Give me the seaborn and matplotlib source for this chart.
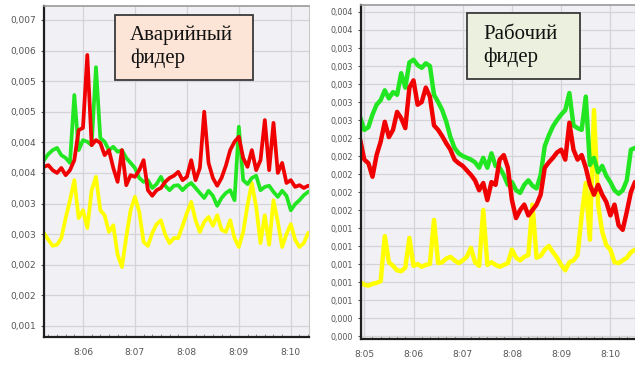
import numpy as np
import pandas as pd
import matplotlib
matplotlib.use("Agg")
import matplotlib.pyplot as plt
import matplotlib.dates as mdates
from matplotlib.ticker import FuncFormatter, FixedLocator
from matplotlib.patches import Rectangle
import seaborn as sns

sns.set_theme(style="whitegrid")
plt.rcParams['font.family'] = ['DejaVu Sans']

# ---------------- data: left panel ("Аварийный фидер"), 5 s samples from 08:05:15 ----------------
left_start = "2020-01-01 08:05:15"
green_left = [0.00398, 0.00409, 0.00416, 0.00420, 0.00407, 0.00402, 0.00393, 0.00515, 0.00416, 0.00434,
              0.00431, 0.00425, 0.00565, 0.00438, 0.00431, 0.00416, 0.00422, 0.00413, 0.00416, 0.00402,
              0.00393, 0.00384, 0.00366, 0.00359, 0.00362, 0.00348, 0.00355, 0.00368, 0.00352, 0.00344,
              0.00352, 0.00353, 0.00344, 0.00352, 0.00357, 0.00348, 0.00339, 0.00330, 0.00343, 0.00334,
              0.00316, 0.00330, 0.00339, 0.00344, 0.00326, 0.00458, 0.00362, 0.00355, 0.00366, 0.00370,
              0.00344, 0.00350, 0.00352, 0.00341, 0.00332, 0.00343, 0.00334, 0.00308, 0.00319, 0.00326,
              0.00335, 0.00341, 0.00344]
red_left = [0.00386, 0.00389, 0.00380, 0.00375, 0.00384, 0.00371, 0.00380, 0.00398, 0.00452, 0.00456,
            0.00587, 0.00425, 0.00434, 0.00429, 0.00407, 0.00416, 0.00384, 0.00359, 0.00416, 0.00353,
            0.00371, 0.00368, 0.00380, 0.00398, 0.00344, 0.00334, 0.00344, 0.00348, 0.00359, 0.00366,
            0.00370, 0.00377, 0.00362, 0.00368, 0.00398, 0.00362, 0.00384, 0.00485, 0.00393, 0.00366,
            0.00352, 0.00366, 0.00388, 0.00416, 0.00431, 0.00440, 0.00402, 0.00386, 0.00416, 0.00380,
            0.00398, 0.00470, 0.00380, 0.00465, 0.00375, 0.00393, 0.00357, 0.00362, 0.00350, 0.00353,
            0.00348, 0.00352, 0.00350]
yellow_left = [0.00267, 0.00255, 0.00244, 0.00246, 0.00258, 0.00294, 0.00326, 0.00362, 0.00294, 0.00308,
               0.00276, 0.00344, 0.00368, 0.00308, 0.00299, 0.00269, 0.00281, 0.00228, 0.00206, 0.00260,
               0.00308, 0.00332, 0.00305, 0.00251, 0.00244, 0.00267, 0.00283, 0.00290, 0.00264, 0.00249,
               0.00258, 0.00258, 0.00280, 0.00303, 0.00323, 0.00290, 0.00269, 0.00287, 0.00296, 0.00280,
               0.00299, 0.00273, 0.00269, 0.00290, 0.00258, 0.00242, 0.00269, 0.00317, 0.00357, 0.00314,
               0.00249, 0.00299, 0.00246, 0.00326, 0.00287, 0.00242, 0.00265, 0.00283, 0.00255, 0.00242,
               0.00249, 0.00267, 0.00269]
left_yticks = [0.00100, 0.00155, 0.00210, 0.00265, 0.00320, 0.00375, 0.00430, 0.00485, 0.00540, 0.00595, 0.00650]
left_ylabels = ["0,001", "0,002", "0,002", "0,003", "0,003", "0,004", "0,004", "0,005", "0,005", "0,006", "0,007"]

# ---------------- data: right panel ("Рабочий фидер"), 5 s samples from 08:04:55 ----------------
right_start = "2020-01-01 08:04:55"
green_right = [0.00263, 0.00249, 0.00252, 0.00266, 0.00277, 0.00282, 0.00293, 0.00284, 0.00291, 0.00288,
               0.00312, 0.00296, 0.00324, 0.00327, 0.00321, 0.00318, 0.00323, 0.00320, 0.00288, 0.00280,
               0.00271, 0.00258, 0.00241, 0.00229, 0.00223, 0.00220, 0.00218, 0.00216, 0.00213, 0.00207,
               0.00218, 0.00207, 0.00223, 0.00209, 0.00207, 0.00199, 0.00188, 0.00191, 0.00182, 0.00179,
               0.00188, 0.00193, 0.00187, 0.00184, 0.00199, 0.00231, 0.00243, 0.00253, 0.00260, 0.00266,
               0.00271, 0.00290, 0.00254, 0.00251, 0.00249, 0.00286, 0.00210, 0.00218, 0.00202, 0.00209,
               0.00198, 0.00191, 0.00182, 0.00178, 0.00182, 0.00193, 0.00227, 0.00229, 0.00227]
red_right = [0.00238, 0.00216, 0.00212, 0.00197, 0.00221, 0.00236, 0.00258, 0.00241, 0.00249, 0.00269,
             0.00262, 0.00251, 0.00296, 0.00304, 0.00277, 0.00280, 0.00296, 0.00286, 0.00254, 0.00249,
             0.00242, 0.00234, 0.00227, 0.00216, 0.00212, 0.00209, 0.00204, 0.00199, 0.00193, 0.00182,
             0.00190, 0.00171, 0.00191, 0.00188, 0.00216, 0.00221, 0.00207, 0.00171, 0.00151, 0.00160,
             0.00166, 0.00154, 0.00160, 0.00166, 0.00177, 0.00207, 0.00213, 0.00218, 0.00224, 0.00227,
             0.00216, 0.00257, 0.00227, 0.00216, 0.00221, 0.00207, 0.00188, 0.00177, 0.00188, 0.00177,
             0.00169, 0.00154, 0.00166, 0.00143, 0.00138, 0.00158, 0.00180, 0.00191, 0.00193]
yellow_right = [0.00080, 0.00077, 0.00076, 0.00078, 0.00079, 0.00081, 0.00131, 0.00102, 0.00098, 0.00093,
                0.00092, 0.00096, 0.00129, 0.00098, 0.00100, 0.00097, 0.00099, 0.00100, 0.00149, 0.00101,
                0.00102, 0.00106, 0.00108, 0.00104, 0.00101, 0.00104, 0.00108, 0.00118, 0.00102, 0.00098,
                0.00160, 0.00099, 0.00102, 0.00099, 0.00097, 0.00099, 0.00101, 0.00116, 0.00107, 0.00104,
                0.00108, 0.00110, 0.00166, 0.00107, 0.00109, 0.00116, 0.00120, 0.00113, 0.00107, 0.00099,
                0.00093, 0.00102, 0.00104, 0.00110, 0.00154, 0.00190, 0.00127, 0.00271, 0.00166, 0.00136,
                0.00121, 0.00116, 0.00102, 0.00101, 0.00104, 0.00107, 0.00113, 0.00116, 0.00116]
right_yticks = [0.0002, 0.0004, 0.0006, 0.0008, 0.0010, 0.0012, 0.0014, 0.0016, 0.0018, 0.0020,
                0.0022, 0.0024, 0.0026, 0.0028, 0.0030, 0.0032, 0.0034, 0.0036, 0.0038]
right_ylabels = ["0,000", "0,000", "0,001", "0,001", "0,001", "0,001", "0,001", "0,002", "0,002", "0,002",
                 "0,002", "0,002", "0,003", "0,003", "0,003", "0,003", "0,003", "0,004", "0,004"]

label_left = "Аварийный\nфидер"
label_right = "Рабочий\nфидер"

colors = {"yellow": "#ffff00", "green": "#22e622", "red": "#f00000"}


def frame(start, g, r, y):
    t = pd.date_range(start, periods=len(g), freq="5s")
    df = pd.DataFrame({"t": t, "green": g, "red": r, "yellow": y})
    return df.melt(id_vars="t", var_name="series", value_name="v")


def minute_fmt(x, pos):
    d = mdates.num2date(x)
    return f"{d.hour}:{d.minute:02d}"


fig = plt.figure(figsize=(6.35, 3.66), dpi=100)
fig.patch.set_facecolor("white")
axL = fig.add_axes([0.0693, 0.0792, 0.4173, 0.9044])
axR = fig.add_axes([0.5685, 0.0738, 0.4315, 0.9126])

panels = [
    (axL, frame(left_start, green_left, red_left, yellow_left), left_yticks, left_ylabels,
     ("2020-01-01 08:05:15", "2020-01-01 08:10:21"), (0.000802, 0.00675), 6.5, 2.7),
    (axR, frame(right_start, green_right, red_right, yellow_right), right_yticks, right_ylabels,
     ("2020-01-01 08:04:56", "2020-01-01 08:10:30"), (0.000167, 0.003878), 5.8, 3.2),
]

for ax, df, yt, yl, xl, ylim, fs, lw in panels:
    ax.set_facecolor("#f1f1f5")
    sns.lineplot(data=df, x="t", y="v", hue="series", hue_order=["yellow", "green", "red"],
                 palette=colors, linewidth=lw, estimator=None, sort=False, legend=False, ax=ax)
    ax.set_xlim(pd.Timestamp(xl[0]), pd.Timestamp(xl[1]))
    ax.set_ylim(*ylim)
    ax.yaxis.set_major_locator(FixedLocator(yt))
    ax.set_yticklabels(yl)
    ax.xaxis.set_major_locator(mdates.MinuteLocator())
    ax.xaxis.set_major_formatter(FuncFormatter(minute_fmt))
    ax.xaxis.set_minor_locator(mdates.SecondLocator(bysecond=[10, 20, 30, 40, 50]))
    ax.set_xlabel("")
    ax.set_ylabel("")
    ax.grid(True, which="major", color="#d3d3d8", linewidth=0.9)
    ax.grid(False, which="minor")
    ax.tick_params(axis="y", labelsize=fs, colors="#555555", length=2.5, width=0.8, pad=3, left=True)
    ax.tick_params(axis="x", which="major", labelsize=6.5, colors="#555555", length=0, pad=8)
    ax.tick_params(axis="x", which="minor", length=2, width=0.6, color="#777777", direction="in", bottom=True)
    for side in ["left", "bottom"]:
        ax.spines[side].set_color("#1e1e1e")
        ax.spines[side].set_linewidth(1.6)
    ax.spines["top"].set_color("#9a9a9a")
    ax.spines["top"].set_linewidth(1.2)
    ax.spines["right"].set_color("#c8c8c8")
    ax.spines["right"].set_linewidth(0.8)

# text boxes
fig.add_artist(Rectangle((115 / 635, 1 - 80 / 366), 138 / 635, 65 / 366, transform=fig.transFigure,
                         facecolor="#fce4d6", edgecolor="#3a3a3a", linewidth=1.3, zorder=10))
fig.text(130 / 635, 1 - 47 / 366, label_left, family=["Liberation Serif"], fontsize=15,
         ha="left", va="center", linespacing=1.25, color="#111111", zorder=11)
fig.add_artist(Rectangle((467 / 635, 1 - 79 / 366), 113 / 635, 66 / 366, transform=fig.transFigure,
                         facecolor="#ebf1de", edgecolor="#3a3a3a", linewidth=1.3, zorder=10))
fig.text(483 / 635, 1 - 46 / 366, label_right, family=["Liberation Serif"], fontsize=15,
         ha="left", va="center", linespacing=1.25, color="#111111", zorder=11)

fig.savefig("out.png", dpi=100)
